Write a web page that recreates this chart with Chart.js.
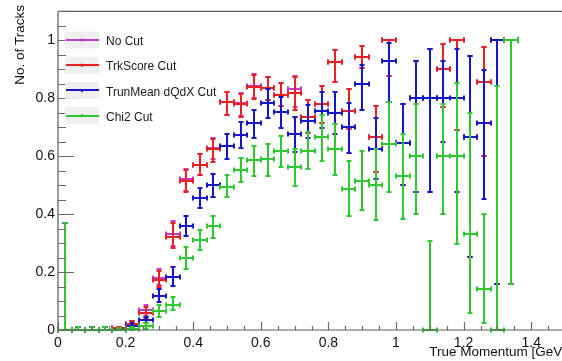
<!DOCTYPE html>
<html>
<head>
<meta charset="utf-8">
<title>Track efficiency vs true momentum</title>
<script src="https://cdn.jsdelivr.net/npm/chart.js@4.4.1/dist/chart.umd.min.js"></script>
<style>
    html, body { margin: 0; padding: 0; background: #ffffff; overflow: hidden; }
    #effChart { display: block; }
</style>
</head>
<body>
<canvas id="effChart" width="570" height="361"></canvas>
<script>
/* ==========================================
   Data (bin centres, 0.04 GeV bins)
========================================== */

const binCenters = [
    0.02, 0.06, 0.10, 0.14, 0.18, 0.22, 0.26, 0.30, 0.34, 0.38,
    0.42, 0.46, 0.50, 0.54, 0.58, 0.62, 0.66, 0.70, 0.74, 0.78,
    0.82, 0.86, 0.90, 0.94, 0.98, 1.02, 1.06, 1.10, 1.14, 1.18,
    1.22, 1.26, 1.30, 1.34
];
const binHalfWidth = 0.02;

const xTicks = [0, 0.2, 0.4, 0.6, 0.8, 1, 1.2, 1.4];
const yTicks = [0, 0.2, 0.4, 0.6, 0.8, 1];

const seriesNames = ["No Cut", "TrkScore Cut", "TrunMean dQdX Cut", "Chi2 Cut"];

const noCutValues = [0, 0, 0, 0, 0.006, 0.02, 0.068, 0.18, 0.33, 0.52, 0.571, 0.63, 0.787, 0.784, 0.844, 0.837, 0.812, 0.831, 0.735, 0.779, 0.927, 0.756, 0.941, 0.667, 1, 0.647, 0.8, 0.8, 0.9, 1, 0.667, 0.857, 1, 1];
const noCutLow = [0, 0, 0, 0, 0.002, 0.012, 0.05, 0.155, 0.29, 0.48, 0.534, 0.59, 0.744, 0.74, 0.8, 0.795, 0.772, 0.77, 0.681, 0.716, 0.857, 0.693, 0.903, 0.545, 0.877, 0.5, 0.475, 0.475, 0.77, 0.692, 0.253, 0.6, 0.16, 0.16];
const noCutHigh = [0.369, 0.01, 0.01, 0.01, 0.012, 0.03, 0.085, 0.21, 0.375, 0.556, 0.607, 0.664, 0.823, 0.818, 0.885, 0.875, 0.852, 0.877, 0.793, 0.844, 0.968, 0.832, 0.979, 0.775, 1, 0.78, 0.93, 0.969, 0.986, 1, 0.946, 0.977, 1, 1];

const trkScoreValues = [0, 0, 0, 0, 0.006, 0.02, 0.059, 0.173, 0.32, 0.515, 0.571, 0.625, 0.787, 0.78, 0.84, 0.837, 0.812, 0.817, 0.735, 0.779, 0.927, 0.756, 0.941, 0.667, 1, 0.647, 0.8, 0.8, 0.9, 1, 0.667, 0.857, 1, 1];
const trkScoreLow = [0, 0, 0, 0, 0.002, 0.012, 0.04, 0.148, 0.284, 0.477, 0.534, 0.579, 0.744, 0.736, 0.797, 0.795, 0.772, 0.759, 0.681, 0.716, 0.857, 0.693, 0.903, 0.545, 0.877, 0.5, 0.475, 0.475, 0.77, 0.692, 0.253, 0.6, 0.16, 0.16];
const trkScoreHigh = [0.369, 0.01, 0.01, 0.01, 0.012, 0.03, 0.079, 0.204, 0.369, 0.551, 0.607, 0.66, 0.823, 0.815, 0.88, 0.875, 0.852, 0.875, 0.793, 0.844, 0.968, 0.832, 0.979, 0.775, 1, 0.78, 0.93, 0.969, 0.986, 1, 0.946, 0.977, 1, 1];

const trunMeanValues = [0, 0, 0, 0, 0, 0.015, 0.034, 0.118, 0.182, 0.36, 0.455, 0.502, 0.636, 0.673, 0.713, 0.784, 0.752, 0.677, 0.721, 0.756, 0.75, 0.702, 0.851, 0.625, 0.929, 0.647, 0.8, 0.8, 0.8, 0.8, 0.667, 0.714, 1, 1];
const trunMeanLow = [0, 0, 0, 0, 0, 0.008, 0.023, 0.096, 0.153, 0.326, 0.42, 0.46, 0.59, 0.627, 0.664, 0.733, 0.698, 0.613, 0.664, 0.698, 0.676, 0.61, 0.759, 0.522, 0.786, 0.5, 0.475, 0.475, 0.65, 0.475, 0.253, 0.454, 0.16, 0.16];
const trunMeanHigh = [0.369, 0.01, 0.01, 0.01, 0.008, 0.024, 0.045, 0.142, 0.216, 0.395, 0.49, 0.539, 0.678, 0.718, 0.761, 0.831, 0.806, 0.736, 0.778, 0.823, 0.823, 0.784, 0.914, 0.733, 0.99, 0.78, 0.93, 0.969, 0.93, 0.969, 0.946, 0.897, 1, 1];

const chi2Values = [0, 0, 0, 0, 0, 0.003, 0.014, 0.065, 0.088, 0.25, 0.312, 0.358, 0.492, 0.553, 0.588, 0.59, 0.619, 0.563, 0.619, 0.667, 0.626, 0.487, 0.516, 0.502, 0.643, 0.53, 0.6, 0, 0.6, 0.6, 0.333, 0.143, 0, 1];
const chi2Low = [0, 0, 0, 0, 0, 0, 0.005, 0.045, 0.068, 0.212, 0.275, 0.318, 0.46, 0.511, 0.531, 0.531, 0.562, 0.497, 0.556, 0.582, 0.534, 0.394, 0.415, 0.379, 0.475, 0.382, 0.4, 0, 0.4, 0.297, 0.057, 0.023, 0, 0.16];
const chi2High = [0.369, 0.01, 0.01, 0.01, 0.008, 0.01, 0.023, 0.085, 0.113, 0.286, 0.346, 0.395, 0.534, 0.593, 0.634, 0.642, 0.67, 0.625, 0.684, 0.744, 0.71, 0.583, 0.619, 0.625, 0.786, 0.675, 0.78, 0.309, 0.78, 0.854, 0.75, 0.401, 0.844, 1];

const seriesColors = ["#c03cd0", "#ec2020", "#1616c8", "#30c830"];

const FONT = '"Liberation Sans", Arial, Helvetica, sans-serif';

document.addEventListener("DOMContentLoaded", function () {

    /* ===============================
       Build datasets
    =============================== */

    function points(values, low, high) {
        return binCenters.map(function (c, i) {
            return { x: c, y: values[i], lo: low[i], hi: high[i] };
        });
    }

    const allSeries = [
        points(noCutValues, noCutLow, noCutHigh),
        points(trkScoreValues, trkScoreLow, trkScoreHigh),
        points(trunMeanValues, trunMeanLow, trunMeanHigh),
        points(chi2Values, chi2Low, chi2High)
    ];

    const datasets = allSeries.map(function (data, k) {
        return {
            label: seriesNames[k],
            data: data,
            borderColor: seriesColors[k],
            backgroundColor: seriesColors[k],
            pointRadius: 0,
            showLine: false
        };
    });

    /* ===============================
       ROOT style error bars, frame, legend
    =============================== */

    const rootStyle = {
        id: "rootStyle",

        afterDatasetsDraw: function (chart) {
            const ctx = chart.ctx;
            const xs = chart.scales.x;
            const ys = chart.scales.y;
            const cap = 2.5;
            const snap = function (v) { return Math.round(v); };

            ctx.save();
            ctx.lineWidth = 2;
            ctx.lineCap = "butt";

            chart.data.datasets.forEach(function (ds) {
                ctx.strokeStyle = ds.borderColor;
                ctx.beginPath();
                ds.data.forEach(function (p) {
                    const px = snap(xs.getPixelForValue(p.x));
                    const pl = snap(xs.getPixelForValue(p.x - binHalfWidth));
                    const pr = snap(xs.getPixelForValue(p.x + binHalfWidth));
                    const py = snap(ys.getPixelForValue(p.y));
                    const pLo = snap(ys.getPixelForValue(p.lo));
                    const pHi = snap(ys.getPixelForValue(p.hi));

                    ctx.moveTo(pl, py); ctx.lineTo(pr, py);
                    ctx.moveTo(pl, py - cap); ctx.lineTo(pl, py + cap);
                    ctx.moveTo(pr, py - cap); ctx.lineTo(pr, py + cap);

                    if (pLo !== pHi) {
                        ctx.moveTo(px, pLo); ctx.lineTo(px, pHi);
                        if (p.hi > p.y) { ctx.moveTo(px - cap, pHi); ctx.lineTo(px + cap, pHi); }
                        if (p.lo < p.y) { ctx.moveTo(px - cap, pLo); ctx.lineTo(px + cap, pLo); }
                    }
                });
                ctx.stroke();
            });

            ctx.restore();
        },

        afterDraw: function (chart) {
            const ctx = chart.ctx;
            const xs = chart.scales.x;
            const ys = chart.scales.y;
            const area = chart.chartArea;

            ctx.save();

            // frame
            ctx.strokeStyle = "#5a5a5a";
            ctx.lineWidth = 1.2;
            ctx.beginPath();
            ctx.moveTo(area.left, area.top);
            ctx.lineTo(area.right, area.top);
            ctx.moveTo(area.left, area.top);
            ctx.lineTo(area.left, area.bottom);
            ctx.lineTo(area.right, area.bottom);
            ctx.stroke();

            // inner ticks, minor every 0.05
            ctx.strokeStyle = "#6a6a6a";
            ctx.beginPath();
            for (let v = 0; v <= 1.1001; v += 0.05) {
                const py = Math.round(ys.getPixelForValue(v)) + 0.5;
                const major = Math.abs(v / 0.2 - Math.round(v / 0.2)) < 1e-6;
                ctx.moveTo(area.left, py);
                ctx.lineTo(area.left + (major ? 16 : 8), py);
            }
            for (let v = 0; v <= 1.5001; v += 0.05) {
                const px = Math.round(xs.getPixelForValue(v)) + 0.5;
                const major = Math.abs(v / 0.2 - Math.round(v / 0.2)) < 1e-6;
                ctx.moveTo(px, area.bottom);
                ctx.lineTo(px, area.bottom - (major ? 8 : 4));
            }
            ctx.stroke();

            // axis titles
            ctx.fillStyle = "#111111";
            ctx.font = "13.5px " + FONT;
            ctx.textAlign = "right";
            ctx.textBaseline = "alphabetic";
            ctx.fillText("True Momentum [GeV]", 566, 356);

            ctx.save();
            ctx.translate(24, 5);
            ctx.rotate(-Math.PI / 2);
            ctx.fillText("No. of Tracks", 0, 0);
            ctx.restore();

            // legend
            ctx.font = "12px " + FONT;
            ctx.textAlign = "left";
            ctx.textBaseline = "middle";
            chart.data.datasets.forEach(function (ds, k) {
                const cy = 40 + 25.2 * k;
                ctx.fillStyle = "#efefef";
                ctx.fillRect(65, cy - 8.5, 34, 17);
                ctx.strokeStyle = ds.borderColor;
                ctx.lineWidth = 2;
                ctx.beginPath();
                ctx.moveTo(66, Math.round(cy)); ctx.lineTo(99, Math.round(cy));
                ctx.moveTo(82, cy - 1.5); ctx.lineTo(82, cy + 1.5);
                ctx.stroke();
                ctx.fillStyle = "#1a1a1a";
                ctx.fillText(ds.label, 106, cy + 1.8);
            });

            ctx.restore();
        }
    };

    /* ===============================
       Chart
    =============================== */

    new Chart(document.getElementById("effChart"), {

        type: "scatter",

        data: { datasets: datasets },

        options: {
            responsive: false,
            animation: false,
            devicePixelRatio: 1,
            layout: { padding: { top: 7, right: 5, left: 0, bottom: 0 } },
            plugins: {
                legend: { display: false },
                tooltip: { enabled: false }
            },
            scales: {
                x: {
                    type: "linear",
                    min: 0,
                    max: 1.5,
                    afterBuildTicks: function (scale) {
                        scale.ticks = xTicks.map(function (v) { return { value: v }; });
                    },
                    afterFit: function (scale) { scale.height = 31; },
                    grid: { display: false, drawTicks: false },
                    border: { display: false },
                    ticks: {
                        padding: 5,
                        color: "#111111",
                        font: { family: FONT, size: 14 },
                        maxRotation: 0,
                        autoSkip: false,
                        callback: function (v) { return String(Math.round(v * 10) / 10); }
                    }
                },
                y: {
                    type: "linear",
                    min: 0,
                    max: 1.1,
                    afterBuildTicks: function (scale) {
                        scale.ticks = yTicks.map(function (v) { return { value: v }; });
                    },
                    afterFit: function (scale) { scale.width = 58; },
                    grid: { display: false, drawTicks: false },
                    border: { display: false },
                    ticks: {
                        padding: 3,
                        color: "#111111",
                        font: { family: FONT, size: 14 },
                        autoSkip: false,
                        callback: function (v) { return String(Math.round(v * 10) / 10); }
                    }
                }
            }
        },

        plugins: [rootStyle]

    });

});
</script>
</body>
</html>
